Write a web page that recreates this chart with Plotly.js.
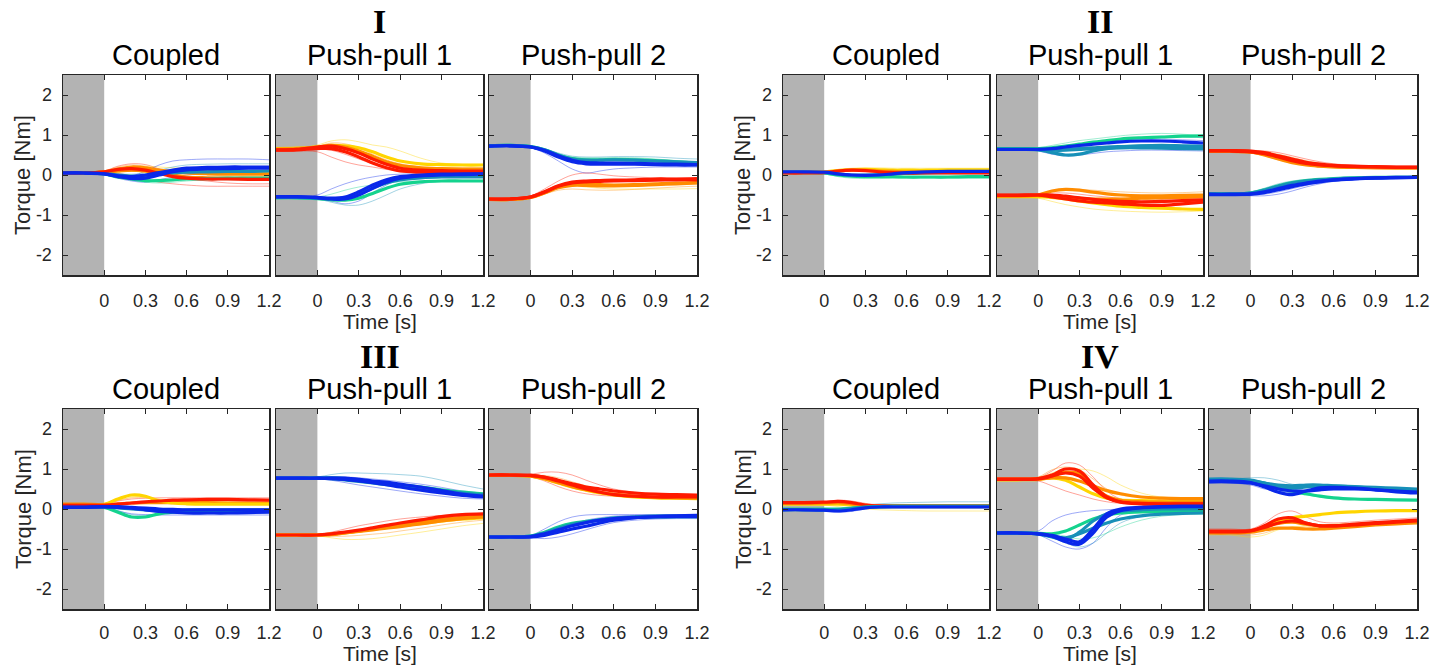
<!DOCTYPE html>
<html>
<head>
<meta charset="utf-8">
<script src="https://cdn.plot.ly/plotly-3.0.1.min.js"></script>
<style>html,body{margin:0;padding:0;background:#fff;}#plot{width:1446px;height:665px;}</style>
</head>
<body>
<div id="plot"></div>
<script>
// ---------------- data ----------------
const time = [-0.3,-0.15,0,0.1,0.2,0.3,0.4,0.5,0.6,0.75,0.9,1.05,1.2];
const xTickVals = [0,0.3,0.6,0.9,1.2];
const xTickText = ['0','0.3','0.6','0.9','1.2'];
const yTickVals = [-2,-1,0,1,2];
const yTickText = ['-2','-1','0','1','2'];
const groupNames = ['I','II','III','IV'];
const conditionNames = ['Coupled','Push-pull 1','Push-pull 2'];

// Group I – Coupled
const I_cp_red = [0.05,0.05,0.08,0.14,0.16,0.12,0.04,-0.04,-0.08,-0.1,-0.1,-0.11,-0.11];
const I_cp_orange = [0.05,0.05,0.08,0.15,0.2,0.18,0.12,0.08,0.05,0.03,0.02,0.02,0.02];
const I_cp_orange2 = [0.05,0.05,0.07,0.1,0.12,0.1,0.04,0,-0.05,-0.07,-0.08,-0.08,-0.08];
const I_cp_yellow = [0.05,0.05,0.07,0.1,0.12,0.1,0.08,0.07,0.07,0.08,0.08,0.08,0.08];
const I_cp_green = [0.05,0.05,0.03,-0.05,-0.1,-0.14,-0.14,-0.12,-0.1,-0.09,-0.08,-0.08,-0.08];
const I_cp_teal = [0.05,0.05,0.04,0,-0.03,-0.02,0.02,0.05,0.07,0.08,0.09,0.09,0.1];
const I_cp_blue = [0.05,0.05,0.03,-0.04,-0.09,-0.08,0,0.08,0.13,0.15,0.16,0.17,0.17];
const I_cp_blue2 = [0.05,0.05,0.03,-0.02,-0.04,0,0.06,0.12,0.17,0.19,0.2,0.2,0.2];
const I_cp_t_red = [0.05,0.05,0.1,0.22,0.28,0.26,0.15,0.02,-0.08,-0.15,-0.2,-0.22,-0.22];
const I_cp_t_red2 = [0.05,0.05,0.06,0.04,-0.02,-0.1,-0.18,-0.22,-0.25,-0.28,-0.28,-0.28,-0.28];
const I_cp_t_orange = [0.05,0.06,0.1,0.2,0.25,0.22,0.15,0.12,0.1,0.1,0.1,0.1,0.1];
const I_cp_t_yellow = [0.05,0.05,0.08,0.14,0.2,0.22,0.2,0.18,0.16,0.15,0.15,0.15,0.15];
const I_cp_t_blue = [0.05,0.05,0.04,0.0,-0.02,0.1,0.25,0.35,0.38,0.4,0.4,0.4,0.38];
const I_cp_t_blue2 = [0.05,0.05,0.02,-0.08,-0.15,-0.18,-0.12,-0.05,0.0,0.02,0.03,0.03,0.03];
const I_cp_t_green = [0.05,0.05,0.02,-0.06,-0.12,-0.18,-0.2,-0.18,-0.15,-0.12,-0.12,-0.12,-0.12];
const I_cp_t_teal = [0.05,0.05,0.05,0.03,0.02,0.05,0.12,0.2,0.25,0.27,0.28,0.28,0.28];

// Group I – Push-pull 1
const I_p1_red = [0.63,0.64,0.7,0.72,0.66,0.55,0.4,0.27,0.17,0.12,0.11,0.1,0.1];
const I_p1_red2 = [0.62,0.63,0.66,0.66,0.58,0.45,0.3,0.18,0.1,0.07,0.06,0.06,0.06];
const I_p1_orange = [0.65,0.66,0.7,0.74,0.7,0.6,0.47,0.33,0.24,0.18,0.16,0.15,0.15];
const I_p1_yellow = [0.66,0.67,0.7,0.74,0.73,0.68,0.58,0.45,0.35,0.28,0.26,0.25,0.25];
const I_p1_blue = [-0.55,-0.55,-0.57,-0.6,-0.6,-0.5,-0.33,-0.18,-0.08,-0.02,0.0,0.01,0.02];
const I_p1_blue2 = [-0.54,-0.54,-0.56,-0.58,-0.55,-0.42,-0.25,-0.12,-0.04,0.0,0.02,0.03,0.03];
const I_p1_teal = [-0.56,-0.56,-0.58,-0.6,-0.58,-0.48,-0.33,-0.2,-0.12,-0.07,-0.05,-0.05,-0.05];
const I_p1_green = [-0.57,-0.57,-0.59,-0.62,-0.63,-0.58,-0.46,-0.33,-0.23,-0.17,-0.15,-0.15,-0.15];
const I_p1_t_yellow = [0.66,0.68,0.75,0.85,0.88,0.83,0.75,0.7,0.6,0.42,0.3,0.27,0.27];
const I_p1_t_orange = [0.64,0.66,0.72,0.8,0.78,0.68,0.52,0.38,0.28,0.2,0.18,0.18,0.18];
const I_p1_t_red = [0.6,0.6,0.58,0.45,0.33,0.25,0.2,0.14,0.1,0.08,0.07,0.07,0.07];
const I_p1_t_red2 = [0.62,0.62,0.65,0.62,0.52,0.4,0.28,0.18,0.12,0.1,0.1,0.1,0.1];
const I_p1_t_blue = [-0.55,-0.55,-0.5,-0.35,-0.22,-0.12,-0.05,0,0.02,0.03,0.03,0.03,0.03];
const I_p1_t_blue2 = [-0.55,-0.55,-0.58,-0.65,-0.72,-0.65,-0.45,-0.25,-0.12,-0.06,-0.04,-0.04,-0.04];
const I_p1_t_teal = [-0.57,-0.57,-0.6,-0.68,-0.75,-0.75,-0.65,-0.5,-0.35,-0.22,-0.15,-0.13,-0.13];
const I_p1_t_green = [-0.56,-0.56,-0.55,-0.48,-0.38,-0.3,-0.25,-0.2,-0.17,-0.16,-0.15,-0.15,-0.15];

// Group I – Push-pull 2
const I_p2_blue = [0.72,0.73,0.7,0.6,0.45,0.33,0.28,0.27,0.27,0.27,0.26,0.25,0.25];
const I_p2_blue2 = [0.72,0.73,0.7,0.62,0.48,0.37,0.31,0.3,0.3,0.29,0.28,0.27,0.26];
const I_p2_teal = [0.73,0.74,0.71,0.63,0.5,0.4,0.37,0.37,0.38,0.37,0.35,0.33,0.31];
const I_p2_green = [0.73,0.74,0.71,0.63,0.5,0.41,0.38,0.38,0.39,0.38,0.36,0.33,0.3];
const I_p2_red = [-0.6,-0.6,-0.55,-0.42,-0.27,-0.18,-0.15,-0.14,-0.13,-0.12,-0.1,-0.1,-0.09];
const I_p2_red2 = [-0.6,-0.6,-0.55,-0.43,-0.28,-0.2,-0.17,-0.16,-0.15,-0.14,-0.13,-0.12,-0.12];
const I_p2_orange = [-0.61,-0.61,-0.56,-0.44,-0.3,-0.22,-0.22,-0.24,-0.25,-0.24,-0.22,-0.2,-0.19];
const I_p2_orange2 = [-0.61,-0.61,-0.56,-0.45,-0.32,-0.26,-0.26,-0.27,-0.27,-0.26,-0.24,-0.22,-0.2];
const I_p2_t_blue = [0.72,0.72,0.68,0.55,0.35,0.15,0.05,0.1,0.15,0.18,0.2,0.2,0.2];
const I_p2_t_teal = [0.74,0.74,0.72,0.65,0.55,0.47,0.45,0.45,0.46,0.46,0.45,0.42,0.4];
const I_p2_t_green = [0.73,0.73,0.7,0.62,0.52,0.45,0.43,0.43,0.43,0.43,0.4,0.36,0.33];
const I_p2_t_red = [-0.6,-0.6,-0.52,-0.35,-0.15,0.0,0.05,0.02,-0.02,-0.05,-0.07,-0.08,-0.08];
const I_p2_t_orange = [-0.62,-0.62,-0.58,-0.48,-0.38,-0.35,-0.37,-0.38,-0.38,-0.36,-0.33,-0.3,-0.28];
const I_p2_t_yellow = [-0.6,-0.6,-0.56,-0.44,-0.32,-0.27,-0.3,-0.33,-0.35,-0.35,-0.35,-0.35,-0.34];

// Group II – Coupled
const II_cp_red = [0.05,0.05,0.06,0.1,0.12,0.11,0.08,0.06,0.05,0.05,0.05,0.05,0.05];
const II_cp_orange = [0.06,0.06,0.07,0.1,0.12,0.12,0.1,0.09,0.08,0.08,0.08,0.08,0.08];
const II_cp_yellow = [0.07,0.07,0.08,0.11,0.13,0.14,0.13,0.12,0.12,0.12,0.13,0.13,0.13];
const II_cp_green = [0.06,0.06,0.05,0.0,-0.03,-0.04,-0.04,-0.04,-0.05,-0.05,-0.05,-0.04,-0.04];
const II_cp_teal = [0.07,0.07,0.06,0.02,0.0,0.0,0.01,0.03,0.04,0.05,0.06,0.06,0.06];
const II_cp_blue = [0.08,0.08,0.07,0.03,0.0,-0.01,0.0,0.03,0.06,0.08,0.09,0.09,0.09];
const II_cp_t_yellow = [0.07,0.07,0.09,0.14,0.17,0.18,0.18,0.17,0.17,0.17,0.17,0.17,0.17];
const II_cp_t_green = [0.05,0.05,0.03,-0.04,-0.08,-0.09,-0.09,-0.08,-0.08,-0.08,-0.08,-0.08,-0.08];
const II_cp_t_orange = [0.06,0.06,0.07,0.12,0.15,0.15,0.13,0.11,0.1,0.1,0.1,0.1,0.1];
const II_cp_t_blue = [0.08,0.08,0.06,0.0,-0.04,-0.05,-0.03,0.0,0.04,0.07,0.08,0.08,0.08];

// Group II – Push-pull 1
const II_p1_green = [0.66,0.66,0.66,0.68,0.72,0.77,0.82,0.86,0.9,0.93,0.95,0.97,0.98];
const II_p1_blue = [0.64,0.64,0.64,0.66,0.7,0.74,0.77,0.8,0.83,0.85,0.85,0.83,0.8];
const II_p1_blue2 = [0.64,0.64,0.63,0.56,0.5,0.52,0.6,0.66,0.7,0.73,0.74,0.73,0.72];
const II_p1_teal = [0.65,0.65,0.65,0.64,0.64,0.66,0.68,0.7,0.71,0.72,0.72,0.71,0.7];
const II_p1_teal2 = [0.65,0.65,0.64,0.62,0.62,0.64,0.66,0.67,0.68,0.68,0.67,0.66,0.65];
const II_p1_orange = [-0.52,-0.52,-0.5,-0.4,-0.36,-0.38,-0.43,-0.47,-0.5,-0.52,-0.52,-0.51,-0.5];
const II_p1_red = [-0.5,-0.5,-0.5,-0.55,-0.6,-0.65,-0.68,-0.7,-0.72,-0.75,-0.76,-0.72,-0.68];
const II_p1_red2 = [-0.51,-0.51,-0.5,-0.5,-0.53,-0.57,-0.61,-0.64,-0.66,-0.67,-0.66,-0.64,-0.62];
const II_p1_orange2 = [-0.52,-0.52,-0.51,-0.52,-0.55,-0.58,-0.6,-0.6,-0.6,-0.58,-0.57,-0.56,-0.55];
const II_p1_yellow = [-0.54,-0.54,-0.54,-0.56,-0.6,-0.65,-0.7,-0.74,-0.78,-0.81,-0.83,-0.85,-0.86];
const II_p1_t_green = [0.66,0.66,0.68,0.74,0.8,0.86,0.9,0.94,0.98,1.02,1.04,1.02,0.98];
const II_p1_t_teal = [0.65,0.65,0.66,0.7,0.74,0.78,0.82,0.86,0.9,0.94,0.97,0.96,0.93];
const II_p1_t_blue = [0.63,0.63,0.6,0.52,0.48,0.5,0.54,0.58,0.6,0.62,0.62,0.61,0.6];
const II_p1_t_blue2 = [0.64,0.64,0.64,0.66,0.7,0.76,0.82,0.86,0.88,0.9,0.9,0.88,0.86];
const II_p1_t_orange = [-0.52,-0.52,-0.48,-0.4,-0.36,-0.36,-0.38,-0.4,-0.42,-0.44,-0.45,-0.44,-0.42];
const II_p1_t_yellow = [-0.55,-0.55,-0.58,-0.66,-0.74,-0.8,-0.85,-0.88,-0.9,-0.92,-0.93,-0.92,-0.9];
const II_p1_t_red = [-0.5,-0.5,-0.48,-0.45,-0.45,-0.48,-0.52,-0.55,-0.58,-0.6,-0.6,-0.58,-0.56];

// Group II – Push-pull 2
const II_p2_red = [0.6,0.6,0.58,0.53,0.45,0.36,0.29,0.25,0.23,0.21,0.2,0.19,0.19];
const II_p2_red2 = [0.61,0.61,0.6,0.56,0.48,0.4,0.32,0.27,0.24,0.22,0.21,0.2,0.2];
const II_p2_orange = [0.59,0.59,0.57,0.52,0.43,0.34,0.27,0.23,0.21,0.2,0.19,0.18,0.18];
const II_p2_orange2 = [0.6,0.6,0.58,0.5,0.4,0.31,0.25,0.22,0.2,0.19,0.18,0.18,0.18];
const II_p2_blue = [-0.48,-0.48,-0.47,-0.42,-0.34,-0.26,-0.2,-0.15,-0.12,-0.09,-0.07,-0.06,-0.06];
const II_p2_blue2 = [-0.49,-0.49,-0.48,-0.44,-0.37,-0.29,-0.22,-0.17,-0.13,-0.1,-0.08,-0.07,-0.06];
const II_p2_teal = [-0.47,-0.47,-0.45,-0.38,-0.28,-0.2,-0.15,-0.12,-0.1,-0.08,-0.07,-0.06,-0.06];
const II_p2_green = [-0.47,-0.47,-0.45,-0.37,-0.27,-0.19,-0.14,-0.11,-0.09,-0.07,-0.06,-0.06,-0.05];
const II_p2_t_red = [0.62,0.62,0.62,0.6,0.56,0.48,0.4,0.33,0.28,0.24,0.22,0.21,0.2];
const II_p2_t_red2 = [0.58,0.58,0.55,0.48,0.38,0.3,0.25,0.22,0.2,0.19,0.18,0.18,0.18];
const II_p2_t_orange = [0.61,0.61,0.61,0.58,0.52,0.44,0.36,0.3,0.26,0.23,0.21,0.2,0.2];
const II_p2_t_blue = [-0.5,-0.5,-0.52,-0.52,-0.48,-0.4,-0.3,-0.22,-0.16,-0.11,-0.08,-0.07,-0.06];
const II_p2_t_blue2 = [-0.49,-0.49,-0.5,-0.48,-0.42,-0.34,-0.26,-0.19,-0.14,-0.1,-0.08,-0.07,-0.06];
const II_p2_t_teal = [-0.46,-0.46,-0.42,-0.33,-0.22,-0.15,-0.11,-0.09,-0.08,-0.07,-0.06,-0.06,-0.05];

// Group III – Coupled
const III_cp_red = [0.1,0.1,0.1,0.12,0.15,0.18,0.2,0.22,0.23,0.24,0.24,0.23,0.22];
const III_cp_orange = [0.12,0.12,0.11,0.13,0.15,0.16,0.16,0.16,0.16,0.16,0.15,0.15,0.15];
const III_cp_yellow = [0.1,0.1,0.12,0.25,0.35,0.32,0.2,0.15,0.13,0.12,0.12,0.12,0.12];
const III_cp_green = [0.05,0.05,0.04,-0.08,-0.2,-0.2,-0.12,-0.08,-0.06,-0.05,-0.05,-0.05,-0.05];
const III_cp_teal = [0.04,0.04,0.05,0.03,0.0,-0.02,-0.03,-0.03,-0.03,-0.02,-0.02,-0.02,-0.02];
const III_cp_blue = [0.04,0.04,0.05,0.04,0.02,-0.02,-0.06,-0.08,-0.1,-0.1,-0.1,-0.09,-0.08];
const III_cp_blue2 = [0.05,0.05,0.06,0.06,0.04,0.02,0.0,-0.01,-0.02,-0.02,-0.02,-0.02,-0.02];
const III_cp_t_red = [0.1,0.1,0.12,0.2,0.25,0.27,0.28,0.28,0.28,0.28,0.28,0.28,0.28];
const III_cp_t_orange = [0.12,0.12,0.14,0.22,0.28,0.28,0.24,0.22,0.21,0.2,0.2,0.2,0.2];
const III_cp_t_blue = [0.05,0.05,0.04,-0.05,-0.12,-0.14,-0.15,-0.15,-0.15,-0.15,-0.15,-0.15,-0.15];
const III_cp_t_teal = [0.04,0.04,0.04,-0.04,-0.14,-0.16,-0.12,-0.1,-0.1,-0.1,-0.1,-0.1,-0.1];
const III_cp_t_yellow = [0.1,0.1,0.13,0.22,0.3,0.3,0.25,0.22,0.2,0.2,0.2,0.2,0.2];

// Group III – Push-pull 1
const III_p1_blue = [0.77,0.77,0.77,0.76,0.74,0.7,0.66,0.61,0.55,0.47,0.4,0.34,0.3];
const III_p1_blue2 = [0.77,0.77,0.77,0.78,0.77,0.74,0.7,0.67,0.62,0.55,0.46,0.37,0.32];
const III_p1_teal = [0.77,0.77,0.77,0.76,0.73,0.69,0.65,0.61,0.57,0.52,0.46,0.4,0.36];
const III_p1_green = [0.77,0.77,0.78,0.78,0.76,0.72,0.68,0.64,0.6,0.55,0.48,0.42,0.38];
const III_p1_red = [-0.65,-0.65,-0.65,-0.62,-0.58,-0.53,-0.47,-0.41,-0.35,-0.27,-0.19,-0.14,-0.12];
const III_p1_orange = [-0.65,-0.65,-0.65,-0.64,-0.6,-0.56,-0.52,-0.48,-0.44,-0.37,-0.3,-0.24,-0.2];
const III_p1_orange2 = [-0.65,-0.65,-0.65,-0.63,-0.59,-0.55,-0.5,-0.45,-0.4,-0.33,-0.26,-0.21,-0.17];
const III_p1_yellow = [-0.65,-0.65,-0.65,-0.63,-0.6,-0.55,-0.5,-0.46,-0.42,-0.36,-0.3,-0.25,-0.22];
const III_p1_t_teal = [0.77,0.77,0.8,0.86,0.9,0.9,0.89,0.88,0.86,0.82,0.72,0.6,0.5];
const III_p1_t_blue = [0.77,0.77,0.76,0.72,0.66,0.6,0.55,0.5,0.45,0.38,0.32,0.27,0.25];
const III_p1_t_blue2 = [0.77,0.77,0.78,0.8,0.8,0.78,0.75,0.72,0.68,0.62,0.54,0.45,0.4];
const III_p1_t_red = [-0.65,-0.65,-0.64,-0.58,-0.5,-0.42,-0.36,-0.3,-0.25,-0.2,-0.16,-0.13,-0.12];
const III_p1_t_orange = [-0.65,-0.65,-0.66,-0.68,-0.68,-0.66,-0.63,-0.6,-0.55,-0.48,-0.4,-0.33,-0.28];
const III_p1_t_yellow = [-0.65,-0.65,-0.67,-0.72,-0.76,-0.76,-0.74,-0.7,-0.65,-0.58,-0.5,-0.42,-0.36];

// Group III – Push-pull 2
const III_p2_red = [0.85,0.85,0.84,0.8,0.72,0.63,0.55,0.5,0.45,0.4,0.37,0.36,0.35];
const III_p2_red2 = [0.85,0.85,0.84,0.79,0.7,0.6,0.5,0.42,0.36,0.32,0.3,0.3,0.3];
const III_p2_orange = [0.84,0.84,0.82,0.76,0.66,0.56,0.48,0.42,0.37,0.32,0.29,0.28,0.27];
const III_p2_yellow = [0.84,0.84,0.82,0.75,0.65,0.55,0.47,0.4,0.35,0.3,0.28,0.27,0.26];
const III_p2_blue = [-0.7,-0.7,-0.7,-0.66,-0.58,-0.5,-0.43,-0.35,-0.28,-0.22,-0.19,-0.17,-0.16];
const III_p2_blue2 = [-0.7,-0.7,-0.69,-0.62,-0.52,-0.42,-0.34,-0.28,-0.24,-0.21,-0.2,-0.19,-0.19];
const III_p2_teal = [-0.7,-0.7,-0.68,-0.6,-0.48,-0.38,-0.32,-0.27,-0.23,-0.2,-0.18,-0.18,-0.17];
const III_p2_green = [-0.7,-0.7,-0.68,-0.58,-0.45,-0.36,-0.31,-0.27,-0.23,-0.21,-0.2,-0.19,-0.19];
const III_p2_t_red = [0.85,0.85,0.87,0.92,0.92,0.85,0.72,0.6,0.5,0.42,0.38,0.37,0.36];
const III_p2_t_red2 = [0.84,0.84,0.8,0.7,0.56,0.45,0.38,0.34,0.32,0.3,0.3,0.3,0.3];
const III_p2_t_orange = [0.84,0.84,0.84,0.84,0.78,0.68,0.58,0.5,0.44,0.38,0.34,0.32,0.31];
const III_p2_t_blue = [-0.7,-0.7,-0.66,-0.5,-0.32,-0.2,-0.15,-0.14,-0.14,-0.14,-0.14,-0.14,-0.14];
const III_p2_t_blue2 = [-0.7,-0.7,-0.72,-0.74,-0.7,-0.62,-0.52,-0.42,-0.34,-0.28,-0.25,-0.24,-0.24];
const III_p2_t_blue3 = [-0.7,-0.7,-0.7,-0.64,-0.52,-0.38,-0.28,-0.22,-0.18,-0.16,-0.15,-0.14,-0.14];

// Group IV – Coupled
const IV_cp_red = [0.16,0.16,0.17,0.19,0.16,0.1,0.08,0.08,0.08,0.08,0.08,0.08,0.08];
const IV_cp_orange = [0.14,0.14,0.15,0.16,0.13,0.09,0.07,0.07,0.07,0.07,0.07,0.07,0.07];
const IV_cp_yellow = [0.12,0.12,0.12,0.12,0.1,0.07,0.06,0.06,0.06,0.06,0.06,0.06,0.06];
const IV_cp_green = [0.0,0.0,0.0,0.0,0.02,0.05,0.06,0.07,0.07,0.07,0.07,0.07,0.07];
const IV_cp_teal = [-0.02,-0.02,-0.03,-0.02,0.01,0.04,0.05,0.06,0.06,0.06,0.06,0.06,0.06];
const IV_cp_blue = [-0.02,-0.02,-0.03,-0.05,-0.02,0.03,0.05,0.05,0.05,0.05,0.05,0.05,0.05];
const IV_cp_t_red = [0.16,0.16,0.18,0.22,0.2,0.14,0.1,0.09,0.09,0.09,0.09,0.09,0.09];
const IV_cp_t_teal = [0.0,0.0,0.0,0.02,0.06,0.1,0.13,0.15,0.16,0.17,0.18,0.18,0.18];
const IV_cp_t_yellow = [0.12,0.12,0.1,0.06,0.02,0.0,-0.02,-0.03,-0.04,-0.05,-0.05,-0.05,-0.05];
const IV_cp_t_blue = [-0.03,-0.03,-0.05,-0.08,-0.06,0.0,0.03,0.04,0.04,0.04,0.04,0.04,0.04];

// Group IV – Push-pull 1
const IV_p1_red = [0.75,0.75,0.76,0.85,1.0,0.95,0.6,0.3,0.18,0.14,0.13,0.13,0.13];
const IV_p1_red2 = [0.74,0.74,0.75,0.82,0.9,0.82,0.52,0.28,0.17,0.13,0.12,0.12,0.12];
const IV_p1_orange = [0.74,0.74,0.75,0.78,0.78,0.7,0.58,0.46,0.38,0.3,0.27,0.26,0.26];
const IV_p1_orange2 = [0.75,0.75,0.76,0.83,0.92,0.88,0.58,0.32,0.22,0.18,0.17,0.17,0.17];
const IV_p1_yellow = [0.73,0.73,0.74,0.78,0.72,0.55,0.38,0.27,0.22,0.21,0.2,0.2,0.2];
const IV_p1_blue = [-0.6,-0.6,-0.62,-0.68,-0.82,-0.88,-0.6,-0.2,-0.04,0.03,0.05,0.06,0.06];
const IV_p1_blue2 = [-0.6,-0.6,-0.62,-0.66,-0.75,-0.82,-0.5,-0.12,0.0,0.04,0.06,0.07,0.07];
const IV_p1_teal = [-0.6,-0.6,-0.62,-0.7,-0.76,-0.58,-0.3,-0.12,-0.05,-0.02,0.0,0.0,0.0];
const IV_p1_teal2 = [-0.6,-0.6,-0.62,-0.68,-0.72,-0.62,-0.48,-0.35,-0.25,-0.17,-0.13,-0.11,-0.1];
const IV_p1_green = [-0.6,-0.6,-0.61,-0.62,-0.55,-0.4,-0.25,-0.15,-0.1,-0.07,-0.06,-0.06,-0.06];
const IV_p1_t_red = [0.74,0.74,0.78,0.95,1.15,1.1,0.8,0.45,0.25,0.18,0.16,0.15,0.15];
const IV_p1_t_red2 = [0.72,0.72,0.7,0.58,0.45,0.35,0.25,0.18,0.14,0.12,0.12,0.12,0.12];
const IV_p1_t_orange = [0.75,0.75,0.8,0.98,1.05,0.98,0.75,0.5,0.35,0.3,0.28,0.27,0.27];
const IV_p1_t_yellow = [0.74,0.74,0.78,0.9,1.0,1.0,0.95,0.8,0.6,0.4,0.3,0.28,0.28];
const IV_p1_t_blue = [-0.6,-0.6,-0.55,-0.3,-0.15,-0.08,-0.04,-0.02,0.0,0.02,0.03,0.03,0.03];
const IV_p1_t_blue2 = [-0.6,-0.6,-0.65,-0.8,-0.95,-1.0,-0.85,-0.45,-0.15,-0.02,0.03,0.04,0.04];
const IV_p1_t_teal = [-0.6,-0.6,-0.62,-0.72,-0.85,-0.95,-0.85,-0.6,-0.35,-0.18,-0.1,-0.08,-0.08];
const IV_p1_t_green = [-0.6,-0.6,-0.6,-0.62,-0.68,-0.75,-0.72,-0.6,-0.45,-0.28,-0.18,-0.14,-0.13];

// Group IV – Push-pull 2
const IV_p2_blue = [0.7,0.7,0.66,0.55,0.42,0.36,0.45,0.53,0.54,0.52,0.48,0.43,0.4];
const IV_p2_blue2 = [0.68,0.68,0.65,0.58,0.5,0.45,0.45,0.48,0.5,0.5,0.48,0.45,0.42];
const IV_p2_teal = [0.75,0.75,0.72,0.65,0.6,0.58,0.6,0.6,0.58,0.56,0.54,0.52,0.5];
const IV_p2_teal2 = [0.72,0.72,0.7,0.64,0.56,0.52,0.55,0.57,0.57,0.55,0.52,0.49,0.46];
const IV_p2_green = [0.72,0.72,0.7,0.65,0.55,0.45,0.38,0.32,0.28,0.25,0.24,0.23,0.22];
const IV_p2_red = [-0.57,-0.57,-0.55,-0.42,-0.25,-0.22,-0.35,-0.42,-0.42,-0.38,-0.34,-0.31,-0.28];
const IV_p2_red2 = [-0.55,-0.55,-0.54,-0.46,-0.35,-0.3,-0.36,-0.42,-0.42,-0.4,-0.36,-0.33,-0.3];
const IV_p2_orange = [-0.6,-0.6,-0.58,-0.52,-0.48,-0.48,-0.5,-0.5,-0.48,-0.44,-0.4,-0.37,-0.35];
const IV_p2_orange2 = [-0.58,-0.58,-0.56,-0.46,-0.36,-0.33,-0.38,-0.42,-0.42,-0.4,-0.37,-0.34,-0.32];
const IV_p2_yellow = [-0.58,-0.58,-0.56,-0.45,-0.3,-0.22,-0.18,-0.14,-0.1,-0.07,-0.05,-0.04,-0.04];
const IV_p2_t_teal = [0.75,0.75,0.78,0.78,0.72,0.62,0.6,0.6,0.6,0.58,0.55,0.52,0.5];
const IV_p2_t_blue = [0.65,0.65,0.6,0.5,0.45,0.42,0.45,0.5,0.52,0.52,0.5,0.46,0.43];
const IV_p2_t_green = [0.7,0.7,0.68,0.6,0.48,0.4,0.35,0.3,0.26,0.24,0.24,0.23,0.22];
const IV_p2_t_red = [-0.5,-0.5,-0.5,-0.35,-0.12,-0.05,-0.2,-0.32,-0.35,-0.32,-0.28,-0.25,-0.22];
const IV_p2_t_orange = [-0.62,-0.62,-0.65,-0.6,-0.5,-0.45,-0.45,-0.46,-0.45,-0.42,-0.38,-0.35,-0.33];
const IV_p2_t_yellow = [-0.65,-0.65,-0.7,-0.65,-0.52,-0.45,-0.42,-0.4,-0.38,-0.36,-0.34,-0.32,-0.3];

// ---------------- styling ----------------
const COL = {red:'#ff1a00', orange:'#ff8c00', yellow:'#ffd500', green:'#14d38e', teal:'#1790b8', blue:'#0a28ea'};

const panels = [
 {g:0,c:0, thick:[[I_cp_yellow,'yellow'],[I_cp_orange,'orange'],[I_cp_orange2,'orange'],[I_cp_green,'green'],[I_cp_teal,'teal'],[I_cp_red,'red'],[I_cp_blue2,'blue'],[I_cp_blue,'blue']],
  thin:[[I_cp_t_red,'red'],[I_cp_t_red2,'red'],[I_cp_t_orange,'orange'],[I_cp_t_yellow,'yellow'],[I_cp_t_blue,'blue'],[I_cp_t_blue2,'blue'],[I_cp_t_green,'green'],[I_cp_t_teal,'teal']]},
 {g:0,c:1, thick:[[I_p1_yellow,'yellow'],[I_p1_orange,'orange'],[I_p1_red2,'red'],[I_p1_red,'red'],[I_p1_green,'green'],[I_p1_teal,'teal'],[I_p1_blue2,'blue'],[I_p1_blue,'blue']],
  thin:[[I_p1_t_yellow,'yellow'],[I_p1_t_orange,'orange'],[I_p1_t_red,'red'],[I_p1_t_red2,'red'],[I_p1_t_blue,'blue'],[I_p1_t_blue2,'blue'],[I_p1_t_teal,'teal'],[I_p1_t_green,'green']]},
 {g:0,c:2, thick:[[I_p2_green,'green'],[I_p2_teal,'teal'],[I_p2_blue2,'blue'],[I_p2_blue,'blue'],[I_p2_orange2,'orange'],[I_p2_orange,'orange'],[I_p2_red2,'red'],[I_p2_red,'red']],
  thin:[[I_p2_t_blue,'blue'],[I_p2_t_teal,'teal'],[I_p2_t_green,'green'],[I_p2_t_red,'red'],[I_p2_t_orange,'orange'],[I_p2_t_yellow,'yellow']]},
 {g:1,c:0, thick:[[II_cp_yellow,'yellow'],[II_cp_orange,'orange'],[II_cp_green,'green'],[II_cp_teal,'teal'],[II_cp_red,'red'],[II_cp_blue,'blue']],
  thin:[[II_cp_t_yellow,'yellow'],[II_cp_t_green,'green'],[II_cp_t_orange,'orange'],[II_cp_t_blue,'blue']]},
 {g:1,c:1, thick:[[II_p1_teal2,'teal'],[II_p1_teal,'teal'],[II_p1_green,'green'],[II_p1_blue2,'teal'],[II_p1_blue,'blue'],[II_p1_yellow,'yellow'],[II_p1_orange2,'orange'],[II_p1_orange,'orange'],[II_p1_red2,'red'],[II_p1_red,'red']],
  thin:[[II_p1_t_green,'green'],[II_p1_t_teal,'teal'],[II_p1_t_blue,'blue'],[II_p1_t_blue2,'blue'],[II_p1_t_orange,'orange'],[II_p1_t_yellow,'yellow'],[II_p1_t_red,'red']]},
 {g:1,c:2, thick:[[II_p2_orange2,'orange'],[II_p2_orange,'orange'],[II_p2_red2,'red'],[II_p2_red,'red'],[II_p2_green,'green'],[II_p2_teal,'teal'],[II_p2_blue2,'blue'],[II_p2_blue,'blue']],
  thin:[[II_p2_t_red,'red'],[II_p2_t_red2,'red'],[II_p2_t_orange,'orange'],[II_p2_t_blue,'blue'],[II_p2_t_blue2,'blue'],[II_p2_t_teal,'teal']]},
 {g:2,c:0, thick:[[III_cp_orange,'orange'],[III_cp_yellow,'yellow'],[III_cp_green,'green'],[III_cp_teal,'teal'],[III_cp_red,'red'],[III_cp_blue2,'blue'],[III_cp_blue,'blue']],
  thin:[[III_cp_t_red,'red'],[III_cp_t_orange,'orange'],[III_cp_t_blue,'blue'],[III_cp_t_teal,'teal'],[III_cp_t_yellow,'yellow']]},
 {g:2,c:1, thick:[[III_p1_green,'green'],[III_p1_teal,'teal'],[III_p1_blue2,'blue'],[III_p1_blue,'blue'],[III_p1_yellow,'yellow'],[III_p1_orange2,'orange'],[III_p1_orange,'orange'],[III_p1_red,'red']],
  thin:[[III_p1_t_teal,'teal'],[III_p1_t_blue,'blue'],[III_p1_t_blue2,'blue'],[III_p1_t_red,'red'],[III_p1_t_orange,'orange'],[III_p1_t_yellow,'yellow']]},
 {g:2,c:2, thick:[[III_p2_yellow,'yellow'],[III_p2_orange,'orange'],[III_p2_red2,'red'],[III_p2_red,'red'],[III_p2_green,'green'],[III_p2_teal,'teal'],[III_p2_blue2,'blue'],[III_p2_blue,'blue']],
  thin:[[III_p2_t_red,'red'],[III_p2_t_red2,'red'],[III_p2_t_orange,'orange'],[III_p2_t_blue,'blue'],[III_p2_t_blue2,'blue'],[III_p2_t_blue3,'blue']]},
 {g:3,c:0, thick:[[IV_cp_yellow,'yellow'],[IV_cp_orange,'orange'],[IV_cp_red,'red'],[IV_cp_green,'green'],[IV_cp_teal,'teal'],[IV_cp_blue,'blue']],
  thin:[[IV_cp_t_red,'red'],[IV_cp_t_teal,'teal'],[IV_cp_t_yellow,'yellow'],[IV_cp_t_blue,'blue']]},
 {g:3,c:1, thick:[[IV_p1_yellow,'yellow'],[IV_p1_orange,'orange'],[IV_p1_orange2,'orange'],[IV_p1_red2,'red'],[IV_p1_red,'red'],[IV_p1_green,'green'],[IV_p1_teal2,'teal'],[IV_p1_teal,'teal'],[IV_p1_blue2,'blue'],[IV_p1_blue,'blue']],
  thin:[[IV_p1_t_red,'red'],[IV_p1_t_red2,'red'],[IV_p1_t_orange,'orange'],[IV_p1_t_yellow,'yellow'],[IV_p1_t_blue,'blue'],[IV_p1_t_blue2,'blue'],[IV_p1_t_teal,'teal'],[IV_p1_t_green,'green']]},
 {g:3,c:2, thick:[[IV_p2_green,'green'],[IV_p2_teal,'teal'],[IV_p2_teal2,'teal'],[IV_p2_blue2,'blue'],[IV_p2_blue,'blue'],[IV_p2_yellow,'yellow'],[IV_p2_orange,'orange'],[IV_p2_orange2,'orange'],[IV_p2_red2,'red'],[IV_p2_red,'red']],
  thin:[[IV_p2_t_teal,'teal'],[IV_p2_t_blue,'blue'],[IV_p2_t_green,'green'],[IV_p2_t_red,'red'],[IV_p2_t_orange,'orange'],[IV_p2_t_yellow,'yellow']]}
];

// ---------------- geometry (pixels) ----------------
const W = 1446, H = 665;
const colPx = [[63,269],[276,483],[489,697],[783,989],[997,1203],[1209,1417]];
const rowPx = [[75,275],[409,609]];
const px2x = p => p / W;
const px2y = p => 1 - p / H;

const FONT = 'Liberation Sans, Arial, Helvetica, sans-serif';
const AXC = '#262626';

const traces = [];
const layout = {
  width: W, height: H,
  margin: {l:0, r:0, t:0, b:0},
  paper_bgcolor: '#ffffff', plot_bgcolor: '#ffffff',
  showlegend: false,
  font: {family: FONT, color: AXC},
  shapes: [], annotations: []
};

panels.forEach((p, i) => {
  const n = i + 1;
  const xs = n === 1 ? '' : String(n);
  const row = p.g < 2 ? 0 : 1;
  const col = (p.g % 2) * 3 + p.c;
  const [x0, x1] = colPx[col];
  const [yt, yb] = rowPx[row];
  layout['xaxis' + xs] = {
    domain: [px2x(x0), px2x(x1)], anchor: 'y' + xs,
    range: [-0.3, 1.2], tickvals: xTickVals, ticktext: xTickText,
    ticks: 'inside', ticklen: 5, tickwidth: 1, tickcolor: AXC,
    showline: true, linecolor: AXC, linewidth: 1.5, mirror: 'ticks',
    showgrid: false, zeroline: false, fixedrange: true,
    ticklabelstandoff: row === 0 ? 9 : 7,
    tickfont: {family: FONT, size: 18, color: AXC}
  };
  layout['yaxis' + xs] = {
    domain: [px2y(yb), px2y(yt)], anchor: 'x' + xs,
    range: [-2.5, 2.5], tickvals: yTickVals, ticktext: yTickText,
    ticks: 'inside', ticklen: 5, tickwidth: 1, tickcolor: AXC,
    showline: true, linecolor: AXC, linewidth: 1.5, mirror: 'ticks',
    showgrid: false, zeroline: false, fixedrange: true,
    showticklabels: p.c === 0, ticklabelstandoff: 6,
    tickfont: {family: FONT, size: 18, color: AXC}
  };
  layout.shapes.push({type:'rect', xref:'x' + xs, yref:'y' + xs + ' domain', x0:-0.3, x1:0, y0:0, y1:1,
    fillcolor:'#b3b3b3', line:{width:0}, layer:'below'});
  p.thin.forEach(([ys, c]) => traces.push({type:'scatter', mode:'lines', x: time, y: ys, xaxis:'x' + xs, yaxis:'y' + xs,
    line:{color: COL[c], width: 1, shape:'spline', smoothing: 1}, opacity: 0.4, hoverinfo:'skip'}));
  p.thick.forEach(([ys, c]) => traces.push({type:'scatter', mode:'lines', x: time, y: ys, xaxis:'x' + xs, yaxis:'y' + xs,
    line:{color: COL[c], width: 3.2, shape:'spline', smoothing: 1}, hoverinfo:'skip'}));
  layout.annotations.push({xref:'paper', yref:'paper', x: px2x((x0 + x1) / 2), y: px2y(row === 0 ? 55 : 389),
    text: conditionNames[p.c], showarrow:false, xanchor:'center', yanchor:'middle',
    font:{family: FONT, size: 29, color:'#000'}});
  if (p.c === 1) {
    layout.annotations.push({xref:'paper', yref:'paper', x: px2x((x0 + x1) / 2), y: px2y(row === 0 ? 22 : 356),
      text: '<b>' + groupNames[p.g] + '</b>', showarrow:false, xanchor:'center', yanchor:'middle',
      font:{family: 'Liberation Serif, Times New Roman, serif', size: 34, color:'#000'}});
    layout.annotations.push({xref:'paper', yref:'paper', x: px2x((x0 + x1) / 2), y: px2y(row === 0 ? 321 : 653),
      text: 'Time [s]', showarrow:false, xanchor:'center', yanchor:'middle',
      font:{family: FONT, size: 21, color: AXC}});
  }
  if (p.c === 0) {
    layout.annotations.push({xref:'paper', yref:'paper', x: px2x(x0 - 40), y: px2y((yt + yb) / 2),
      text: 'Torque [Nm]', showarrow:false, xanchor:'center', yanchor:'middle', textangle: -90,
      font:{family: FONT, size: 22, color: AXC}});
  }
});

Plotly.newPlot('plot', traces, layout, {staticPlot: true, displayModeBar: false});
</script>
</body>
</html>
